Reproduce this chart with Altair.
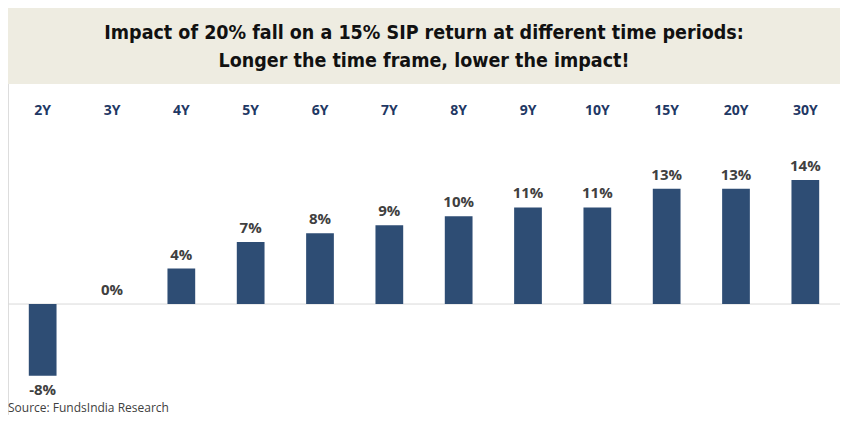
import altair as alt
import pandas as pd

categories = ["2Y", "3Y", "4Y", "5Y", "6Y", "7Y", "8Y", "9Y", "10Y", "15Y", "20Y", "30Y"]
values = [-8.1, 0.0, 4.0, 7.0, 8.0, 8.9, 9.9, 10.9, 10.9, 13.0, 13.0, 14.0]
title_lines = [
    "Impact of 20% fall on a 15% SIP return at different time periods:",
    "Longer the time frame, lower the impact!",
]
source_text = "Source: FundsIndia Research"

df = pd.DataFrame({"period": categories, "impact": values})

W, H = 832, 407
BAR = "#2E4D74"
TITLE_FONT = "DejaVu Sans Condensed"
LABEL_FONT = "Open Sans, sans-serif"
YDOM = [-12.53, 33.42]

x = alt.X("period:N", sort=categories, axis=None,
          scale=alt.Scale(paddingInner=0.6, paddingOuter=0.3))
y = alt.Y("impact:Q", axis=None,
          scale=alt.Scale(domain=YDOM, nice=False, zero=False))

base = alt.Chart(df).transform_calculate(
    label="round(datum.impact) + '%'"
)

bars = base.mark_bar(color=BAR).encode(x=x, y=y, y2=alt.datum(0))

baseline = alt.Chart(pd.DataFrame({"z": [0]})).mark_rule(color="#D9D9D9", strokeWidth=1).encode(
    y=alt.Y("z:Q", scale=alt.Scale(domain=YDOM, nice=False, zero=False), axis=None),
    x=alt.value(0), x2=alt.value(W),
)

pos_labels = base.transform_filter("datum.impact >= 0").mark_text(
    font=LABEL_FONT, fontWeight="bold", fontSize=15, color="#404040",
    baseline="alphabetic", dy=-9,
).encode(x=x, y=y, text="label:N")

neg_labels = base.transform_filter("datum.impact < 0").mark_text(
    font=LABEL_FONT, fontWeight="bold", fontSize=15, color="#404040",
    baseline="top", dy=7,
).encode(x=x, y=y, text="label:N")

cat_labels = base.mark_text(
    font=LABEL_FONT, fontWeight="bold", fontSize=14, color="#1F3864", baseline="middle",
).encode(x=x, y=alt.value(103), text="period:N")

one = pd.DataFrame({"a": [0]})
title_box = alt.Chart(one).mark_rect(color="#EEECE1").encode(
    x=alt.value(-2), x2=alt.value(834), y=alt.value(0), y2=alt.value(76)
)
title1 = alt.Chart(one).mark_text(
    text=title_lines[0], font=TITLE_FONT, fontWeight="bold", fontSize=19.5, color="#111111",
    baseline="middle", align="center",
).encode(x=alt.value(416), y=alt.value(25))
title2 = alt.Chart(one).mark_text(
    text=title_lines[1], font=TITLE_FONT, fontWeight="bold", fontSize=19.5, color="#111111",
    baseline="middle", align="center",
).encode(x=alt.value(416), y=alt.value(53))

source = alt.Chart(one).mark_text(
    text=source_text, font=LABEL_FONT, fontSize=12, color="#404040",
    baseline="alphabetic", align="left",
).encode(x=alt.value(0), y=alt.value(404))

chart = alt.layer(
    title_box, title1, title2, baseline, bars, pos_labels, neg_labels, cat_labels, source
).properties(
    width=W, height=H, padding=0, autosize=alt.AutoSizeParams(type="none")
).configure_view(stroke=None).configure(background="white")

chart.save("out.html", embed_options={"renderer": "svg", "actions": False})
